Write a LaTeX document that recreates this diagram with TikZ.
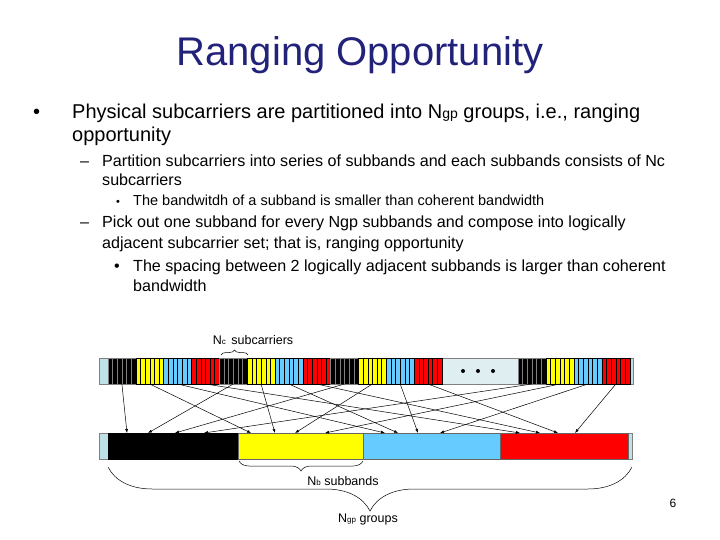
\documentclass[tikz,border=0pt]{standalone}
\usepackage{fontspec}
\setmainfont{Liberation Sans}
\usetikzlibrary{positioning,arrows.meta,decorations.pathreplacing}

\definecolor{titleblue}{RGB}{34,34,122}
\definecolor{ybar}{RGB}{255,255,0}
\definecolor{bbar}{RGB}{102,204,255}
\definecolor{rbar}{RGB}{255,0,0}
\definecolor{capblue}{RGB}{190,224,230}
\definecolor{gapgray}{RGB}{222,238,241}

\begin{document}
\begin{tikzpicture}[
		x=1pt,y=-1pt,
		>={Latex[length=4pt,width=3pt]},
		every node/.style={
			inner sep=0pt,
			anchor=base west
		},
		txtA/.style={font=\fontsize{20}{24}\selectfont},
		txtB/.style={font=\fontsize{16.1}{18}\selectfont},
		txtC/.style={font=\fontsize{14.5}{16}\selectfont},
		lbl/.style={anchor=center,font=\fontsize{12.5}{14}\selectfont},
		map/.style={->,line width=0.5pt},
		bracket/.style={decorate,line width=0.5pt}
		]
		
		\useasboundingbox (0,0) rectangle (720,540);
		
		%--------------------------------------------------
		% Text
		%--------------------------------------------------
		
		\node (title) [anchor=center,font=\fontsize{40}{44}\selectfont,text=titleblue] at (360,55) {Ranging Opportunity};
		
		\node (m1) [txtA] at (33,119) {\textbullet};
		\node (b1) [txtA] at (72,119) {Physical subcarriers are partitioned into N{\fontsize{14}{14}\selectfont gp} groups, i.e., ranging};
		\node (b1b) [txtA] at (72,142) {opportunity};
		
		\node (m2) [txtB] at (80,167) {--};
		\node (s1) [txtB] at (102,167) {Partition subcarriers into series of subbands and each subbands consists of Nc};
		\node (s1b) [txtB] at (102,186) {subcarriers};
		\node (m3) [font=\fontsize{11}{12}\selectfont] at (116,206) {\textbullet};
		\node (ss1) [txtC] at (133,206) {The bandwitdh of a subband is smaller than coherent bandwidth};
		
		\node (m4) [txtB] at (80,228) {--};
		\node (s2) [txtB] at (102,228) {Pick out one subband for every Ngp subbands and compose into logically};
		\node (s2b) [txtB] at (102,248) {adjacent subcarrier set; that is, ranging opportunity};
		\node (m5) [txtB] at (114,271) {\textbullet};
		\node (ss2) [txtB] at (133,271) {The spacing between 2 logically adjacent subbands is larger than coherent};
		\node (ss2b) [txtB] at (133,291) {bandwidth};
		
		%--------------------------------------------------
		% Physical subcarriers
		%--------------------------------------------------
		
		\draw[fill=capblue,draw=gray] (99,358) rectangle (633,384);
		\fill[gapgray] (442,358.5) rectangle (518,383.5);
		\foreach \c/\e [count=\i from 0] in {black/gray,ybar/black,bbar/black,rbar/black,
			black/gray,ybar/black,bbar/black,rbar/black,
			black/gray,ybar/black,bbar/black,rbar/black,
			black/gray,ybar/black,bbar/black,rbar/black}
		{
			\pgfmathsetmacro\xs{\i<12 ? 108+27.83*\i : 518+28*(\i-12)}
			\foreach \k in {0,...,5}
			{
				\draw[fill=\c,draw=\e,line width=0.4pt] ({\xs+\k*4.64},358) rectangle ++(4.64,26);
			}
			\coordinate (s\i) at ({\xs+13.9},384);
		}
		\foreach \x in {463,478,493}
		{
			\fill (\x,371) circle (2);
		}
		
		\draw[bracket,decoration={brace,amplitude=5pt}] (221,355) -- (248,355);
		\node (nc) [lbl] at (253,340) {N{\fontsize{8}{8}\selectfont c}\, subcarriers};
		
		%--------------------------------------------------
		% Logical subbands
		%--------------------------------------------------
		
		\draw[fill=capblue,draw=gray] (99,433) rectangle (632,459);
		\draw[fill=black,draw=black] (108,433) rectangle (238,459);
		\draw[fill=ybar,draw=black!60] (238,433) rectangle (363,459);
		\draw[fill=bbar,draw=black!60] (363,433) rectangle (500,459);
		\draw[fill=rbar,draw=black!60] (500,433) rectangle (628,459);
		
		\foreach \n/\x in {0/127,4/148,8/175,12/204,
			1/251,5/275,9/295,13/325,
			2/385,6/398,10/418,14/440,
			3/520,7/540,11/558,15/575}
		{
			\coordinate (t\n) at (\x,433);
		}
		\foreach \n in {0,...,15}
		{
			\draw[map] (s\n) -- (t\n);
		}
		
		\draw[bracket,decoration={brace,mirror,amplitude=10pt}] (239,461) -- (363,461);
		\node (nb) [lbl] at (343,481) {N{\fontsize{8}{8}\selectfont b} subbands};
		
		\draw[bracket,decoration={brace,mirror,amplitude=44pt}] (108,467) -- (632,467);
		\node (ngp) [lbl] at (368,519) {N{\fontsize{8}{8}\selectfont gp} groups};
		
		\node (page) [anchor=center,font=\fontsize{12}{14}\selectfont] at (673,503) {6};
		
	\end{tikzpicture}
\end{document}
